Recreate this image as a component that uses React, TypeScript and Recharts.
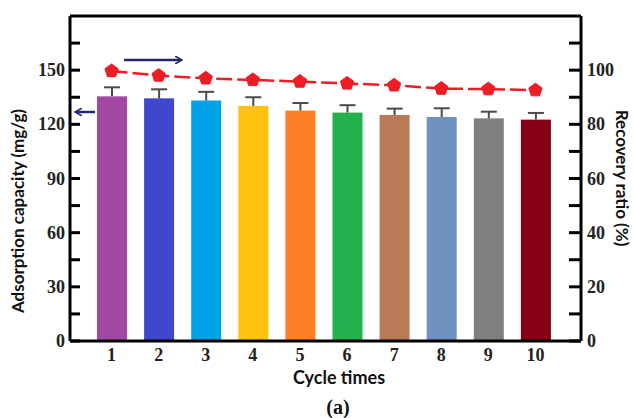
import React from 'react';
import { ComposedChart, Bar, Line, XAxis, YAxis, Cell, ReferenceLine } from 'recharts';

const cycles = ['1', '2', '3', '4', '5', '6', '7', '8', '9', '10'];
const capacity = [135.5, 134.4, 133.2, 130.2, 127.6, 126.5, 125.2, 124.1, 123.3, 122.6];
const capacityErr = [5.0, 5.0, 4.8, 4.8, 4.2, 4.1, 3.5, 4.8, 3.7, 3.7];
const recovery = [99.7, 98.0, 97.0, 96.4, 95.8, 95.1, 94.4, 93.2, 93.0, 92.6];
const barColors = ['#A349A4', '#3F48CC', '#00A2E8', '#FFC20E', '#FF7F27', '#22B14C', '#B97A57', '#7092BE', '#7F7F7F', '#880015'];

const leftTicks = [0, 15, 30, 45, 60, 75, 90, 105, 120, 135, 150, 165];
const leftLabels = [0, 30, 60, 90, 120, 150];
const rightTicks = [0, 10, 20, 30, 40, 50, 60, 70, 80, 90, 100, 110];
const rightLabels = [0, 20, 40, 60, 80, 100];

const data = cycles.map((c, i) => ({
    cycle: c,
    capacity: capacity[i],
    err: capacityErr[i],
    recovery: recovery[i],
}));

const tickFont = { fontFamily: '"Liberation Serif", serif', fontWeight: 700, fontSize: 18, fill: '#222' };
const titleFont = { fontFamily: 'Lato, sans-serif', fontWeight: 700, fontSize: 17, fill: '#111' };

const LeftTick = ({ x, y, payload }: any) => (
    <g>
        <line x1={x} x2={x + 10} y1={y} y2={y} stroke="#000" strokeWidth={3} />
        {leftLabels.includes(payload.value) && (
            <text x={x - 5} y={y} dy={6} textAnchor="end" {...tickFont}>{payload.value}</text>
        )}
    </g>
);

const RightTick = ({ x, y, payload }: any) => (
    <g>
        <line x1={x - 12} x2={x} y1={y} y2={y} stroke="#000" strokeWidth={3} />
        {rightLabels.includes(payload.value) && (
            <text x={x + 6} y={y} dy={6} textAnchor="start" {...tickFont}>{payload.value}</text>
        )}
    </g>
);

const BottomTick = ({ x, y, payload }: any) => (
    <text x={x} y={y} dy={20} textAnchor="middle" {...tickFont}>{payload.value}</text>
);

// bar with an upward-only error whisker, scaled from the bar's own height
const BarWithErr = (props: any) => {
    const { x, y, width, height, fill, payload } = props;
    const perUnit = height / payload.capacity;
    const top = y - payload.err * perUnit;
    const cx = x + width / 2;
    return (
        <g>
            <rect x={x} y={y} width={width} height={height} fill={fill} />
            <line x1={cx} x2={cx} y1={y} y2={top} stroke="#4a4a4a" strokeWidth={2} />
            <line x1={cx - 8} x2={cx + 8} y1={top} y2={top} stroke="#4a4a4a" strokeWidth={2} />
        </g>
    );
};

const Pentagon = ({ cx, cy }: any) => {
    const r = 7;
    const pts = [0, 1, 2, 3, 4]
        .map((k) => {
            const a = -Math.PI / 2 + (k * 2 * Math.PI) / 5;
            return `${cx + r * Math.cos(a)},${cy + r * Math.sin(a)}`;
        })
        .join(' ');
    return <polygon points={pts} fill="#EE1C24" stroke="#EE1C24" strokeWidth={1} />;
};

const App: React.FC = () => {
    return (
        <div style={{ position: 'absolute', left: 0, top: 0, width: 634, height: 418, background: '#fff' }}>
            <ComposedChart
                width={634}
                height={418}
                data={data}
                margin={{ top: 16, right: 0, left: 0, bottom: 47 }}
            >
                <XAxis
                    dataKey="cycle"
                    height={30}
                    padding={{ left: 18, right: 22 }}
                    tickLine={false}
                    axisLine={{ stroke: '#000', strokeWidth: 3 }}
                    tick={<BottomTick />}
                    tickSize={0}
                    tickMargin={0}
                />
                <YAxis
                    yAxisId="left"
                    width={70}
                    domain={[0, 180]}
                    ticks={leftTicks}
                    interval={0}
                    tickLine={false}
                    tickSize={0}
                    tickMargin={0}
                    axisLine={{ stroke: '#000', strokeWidth: 3 }}
                    tick={<LeftTick />}
                />
                <YAxis
                    yAxisId="right"
                    orientation="right"
                    width={53}
                    domain={[0, 120]}
                    ticks={rightTicks}
                    interval={0}
                    tickLine={false}
                    tickSize={0}
                    tickMargin={0}
                    axisLine={{ stroke: '#000', strokeWidth: 3 }}
                    tick={<RightTick />}
                />
                <ReferenceLine yAxisId="left" y={180} stroke="#000" strokeWidth={3} />
                <Bar yAxisId="left" dataKey="capacity" barSize={30} shape={<BarWithErr />} isAnimationActive={false}>
                    {data.map((d, i) => (
                        <Cell key={d.cycle} fill={barColors[i]} />
                    ))}
                </Bar>
                <Line
                    yAxisId="right"
                    dataKey="recovery"
                    stroke="#EE1C24"
                    strokeWidth={2.5}
                    strokeDasharray="16 5"
                    dot={<Pentagon />}
                    activeDot={false}
                    isAnimationActive={false}
                />
            </ComposedChart>
            <svg width={634} height={418} style={{ position: 'absolute', left: 0, top: 0, pointerEvents: 'none' }}>
                <defs>
                    <marker id="arrowHead" markerWidth="8" markerHeight="8" refX="6" refY="4" orient="auto" markerUnits="userSpaceOnUse">
                        <path d="M0,0 L7,4 L0,8" fill="none" stroke="#1F2A6E" strokeWidth={1.6} />
                    </marker>
                </defs>
                <line x1={124} y1={60} x2={181} y2={60} stroke="#1F2A6E" strokeWidth={2.5} markerEnd="url(#arrowHead)" />
                <line x1={95} y1={112} x2={76} y2={112} stroke="#1F2A6E" strokeWidth={2.5} markerEnd="url(#arrowHead)" />
                <text x={24} y={211} textAnchor="middle" transform="rotate(-90 24 211)" {...titleFont}>
                    Adsorption capacity (mg/g)
                </text>
                <text x={616} y={178} textAnchor="middle" transform="rotate(90 616 178)" {...titleFont}>
                    Recovery ratio (%)
                </text>
                <text x={339} y={384} textAnchor="middle" {...titleFont} fontSize={18}>Cycle times</text>
                <text x={338} y={414} textAnchor="middle" fontFamily='"Liberation Serif", serif' fontWeight={700} fontSize={20} fill="#111">
                    (a)
                </text>
            </svg>
        </div>
    );
};

export default App;
